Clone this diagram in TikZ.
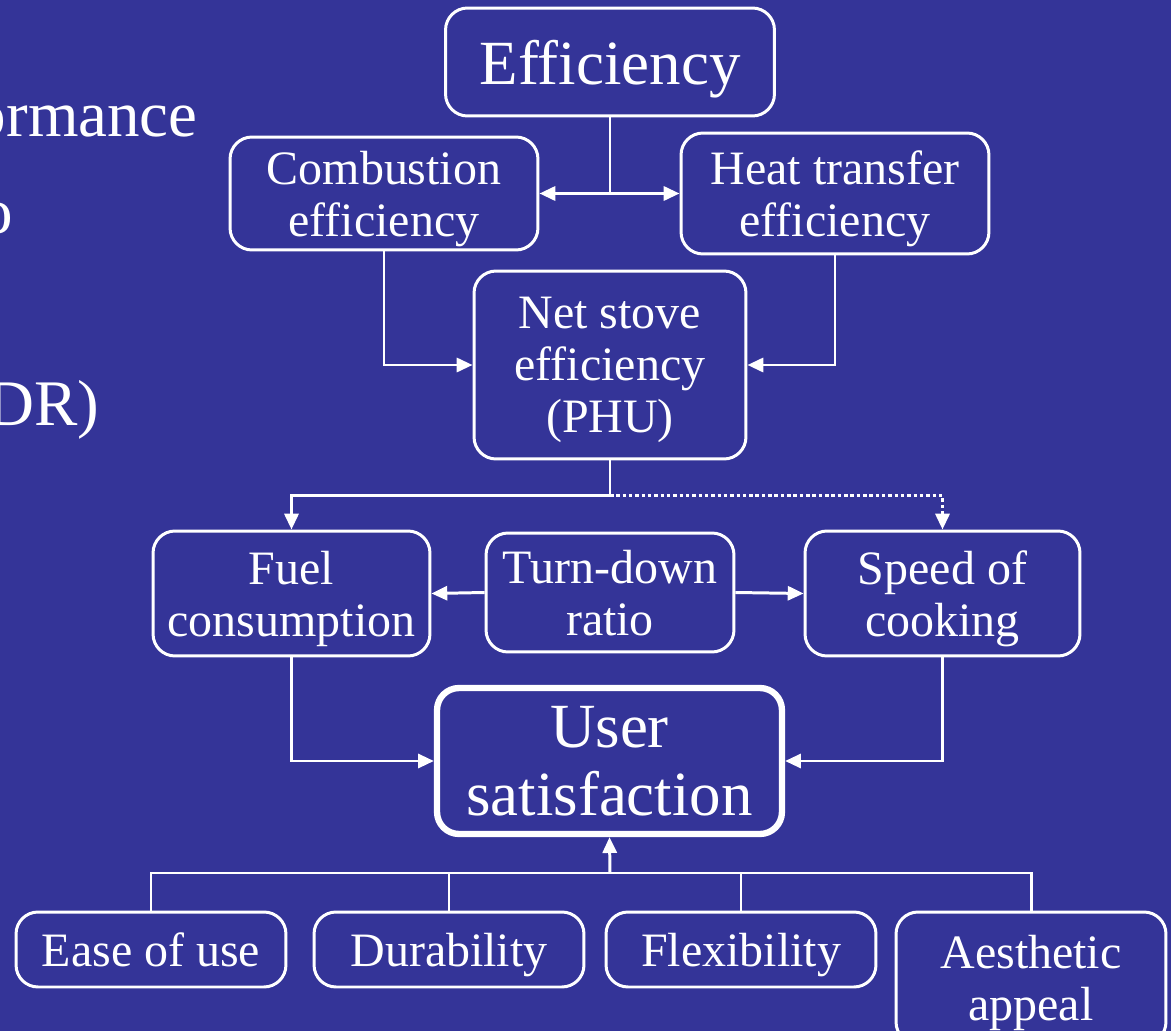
\documentclass[tikz,border=0pt]{standalone}
\usepackage{fontspec}
\setmainfont{Liberation Serif}
\usetikzlibrary{arrows.meta}
\definecolor{slideblue}{RGB}{52,52,152}

\tikzset{
	box/.style={draw=white,line width=1.7pt,rounded corners=0.44cm,text=white,align=center,inner sep=0pt,text depth=0pt,font=\fontsize{27.3}{29.6}\selectfont},
	bigbox/.style={box,font=\fontsize{35.8}{38.5}\selectfont},
	link/.style={white,line width=1.7pt},
	arr/.style={link,-{Triangle[length=9pt,width=8pt]}},
	cut/.style={text=white,inner sep=0pt,font=\fontsize{37}{41}\selectfont}
}

\begin{document}
\begin{tikzpicture}[x=0.02cm,y=-0.02cm]
	\fill[slideblue] (0,0) rectangle (1171,1031);
	\clip (0,0) rectangle (1171,1031);
	% cut-off words on the left of the slide
	\node[cut,anchor=base east] (w1) at (198,136) {ormance};
	\node[cut,anchor=base east] (w2) at (13,233) {o};
	\node[cut,anchor=base east] (w3) at (100,425) {DR)};
	% boxes
	\node[bigbox,minimum width=6.58cm,minimum height=2.16cm] (eff) at (610,62) {Efficiency};
	\node[box,minimum width=6.16cm,minimum height=2.26cm] (comb) at (384,193.5) {Combustion\\efficiency};
	\node[box,minimum width=6.16cm,minimum height=2.42cm] (heat) at (835,193.5) {Heat transfer\\efficiency};
	\node[box,minimum width=5.44cm,minimum height=3.76cm] (net) at (610,365) {Net stove\\efficiency\\(PHU)};
	\node[box,minimum width=5.54cm,minimum height=2.5cm] (fuel) at (291.5,593.5) {Fuel\\consumption};
	\node[box,minimum width=4.96cm,minimum height=2.38cm] (turn) at (610,592.5) {Turn-down\\ratio};
	\node[box,minimum width=5.5cm,minimum height=2.5cm] (speed) at (942.5,593.5) {Speed of\\cooking};
	\node[bigbox,line width=3.6pt,minimum width=6.9cm,minimum height=2.92cm] (user) at (609.5,761) {User\\satisfaction};
	\node[box,minimum width=5.4cm,minimum height=1.5cm] (ease) at (151,949.5) {Ease of use};
	\node[box,minimum width=5.4cm,minimum height=1.5cm] (dura) at (449,949.5) {Durability};
	\node[box,minimum width=5.4cm,minimum height=1.5cm] (flex) at (741,949.5) {Flexibility};
	\node[box,minimum width=5.4cm,minimum height=2.64cm] (aes) at (1031,978) {Aesthetic\\appeal};
	% connectors
	\draw[arr] (eff.south) |- (comb.east);
	\draw[arr] (eff.south) |- (heat.west);
	\draw[arr] (comb.south) |- (net.west);
	\draw[arr] (heat.south) |- (net.east);
	\coordinate (split) at ([yshift=-35*0.02cm]net.south);
	\draw[link] (net.south) -- (split);
	\draw[arr] (split) -| (fuel.north);
	\draw[arr,dash pattern=on 2pt off 1.6pt] (split) -| (speed.north);
	\draw[arr] (turn.west) -- (fuel.east);
	\draw[arr] (turn.east) -- (speed.west);
	\draw[arr] (fuel.south) |- (user.west);
	\draw[arr] (speed.south) |- (user.east);
	\coordinate (bus) at (610,873);
	\foreach \n in {ease,dura,flex,aes}{\draw[link] (\n.north) |- (bus);}
	\draw[arr] (bus) -- (user.south);
\end{tikzpicture}
\end{document}
